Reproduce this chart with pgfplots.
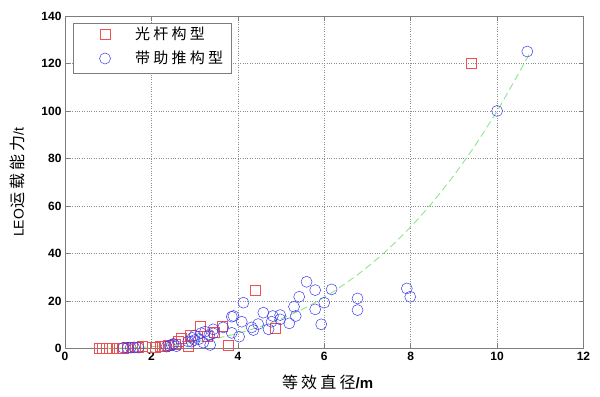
\documentclass[border=0pt]{standalone}
\usepackage{pgfplots}
\pgfplotsset{compat=1.18}
\usepackage{fontspec}
\setmainfont{Liberation Sans}
\newfontfamily\cjk[LetterSpace=20]{Noto Sans CJK SC}
\newfontfamily\cjkl[LetterSpace=22]{Noto Sans CJK SC}
\definecolor{axgray}{RGB}{125,125,125}
\definecolor{gridgray}{RGB}{140,140,140}
\definecolor{fitgreen}{RGB}{140,230,140}
\definecolor{mred}{RGB}{240,80,80}
\definecolor{mblue}{RGB}{60,60,235}
\begin{document}
\begin{tikzpicture}
\begin{axis}[
  at={(0,0)}, anchor=south west,
  scale only axis, width=518.4pt, height=332.6pt,
  xmin=0, xmax=12, ymin=0, ymax=140,
  xtick={0,2,...,12}, ytick={0,20,...,140},
  grid=major, major grid style={dotted, color=gridgray, line width=0.6pt},
  axis line style={axgray, line width=0.6pt},
  tick style={axgray, line width=0.6pt}, major tick length=5pt, tick align=inside,
  tick pos=both,
  ticklabel style={font=\fontsize{12}{14}\selectfont\bfseries},
  /pgf/number format/assume math mode=true,
  clip=false,
  xlabel={{\cjk\fontsize{16}{18}\selectfont 等效直径}{\fontsize{15}{18}\selectfont\bfseries /m}},
  ylabel={{\fontsize{14}{16}\selectfont LEO}{\cjk\fontsize{16}{18}\selectfont 运载能力}{\fontsize{14}{16}\selectfont /t}},
  xlabel style={at={(axis description cs:0.5064,-0.1007)}, anchor=center},
  ylabel style={at={(axis description cs:-0.0916,0.5)}, anchor=center},
  legend style={at={(axis description cs:0.01485,0.9796)}, anchor=north west,
    draw=axgray, line width=0.6pt, fill=white, inner xsep=0pt, inner ysep=1pt,
    nodes={inner xsep=8pt, inner ysep=4.5pt, text height=11pt, text depth=4pt},
    font=\cjkl\fontsize{15}{18}\selectfont, row sep=0pt},
  legend cell align=left,
  legend image code/.code={\path[draw=none] (-32pt,0pt) -- (22pt,0pt); \draw[#1] plot coordinates {(0pt,1.5pt)};},
]
\addplot[only marks, mark=square, mark size=5pt, mred, line width=0.5pt] coordinates {
(0.80,0.3) (0.87,0.3) (0.95,0.3) (1.02,0.3) (1.10,0.3) (1.20,0.3) (1.35,0.3)
(1.45,0.4) (1.55,0.5) (1.62,0.5) (1.70,0.6) (1.78,0.8) (2.02,0.5) (2.10,0.6)
(2.20,0.8) (2.30,1.0) (2.40,1.2) (2.55,2.0) (2.62,2.9) (2.70,4.3) (2.85,0.8)
(2.89,5.7) (3.13,9.2) (3.30,5.0) (3.45,7.0) (3.63,9.2) (3.78,1.5) (4.40,24.6)
(4.86,8.5) (9.40,120)
};
\addlegendentry{光杆构型}
\addplot[only marks, mark=o, mark size=5.5pt, mblue, line width=0.5pt] coordinates {
(1.35,0.3) (1.45,0.3) (1.52,0.4) (1.60,0.5) (1.70,0.4)
(2.35,0.8) (2.42,1.2) (2.47,1.5) (2.51,2.0) (2.58,1.0)
(2.85,3.0) (2.93,2.9) (3.00,3.6) (2.95,4.5) (3.00,5.5) (3.10,4.0) (3.15,6.5)
(3.20,2.5) (3.24,7.1) (3.34,5.7) (3.36,1.5) (3.43,8.1) (3.43,6.4) (3.66,8.9)
(3.86,13.4) (3.90,13.7) (3.86,6.6) (4.03,5.0) (4.09,11.3) (4.13,19.3) (4.32,8.9)
(4.36,7.8) (4.47,10.3) (4.59,15.1) (4.71,8.1) (4.78,11.3) (4.81,13.7) (4.98,14.1)
(4.98,12.3) (5.19,10.6) (5.30,17.6) (5.34,13.7) (5.42,21.8) (5.59,28.1) (5.79,24.6)
(5.79,16.5) (5.93,10.2) (6.00,19.3) (6.17,24.9) (6.77,21.1) (6.77,16.2) (7.91,25.3)
(7.99,21.8) (10.0,100) (10.7,125)
};
\addlegendentry{带助推构型}
\addplot[forget plot, fitgreen, line width=0.9pt, dash pattern=on 7pt off 4pt, smooth] coordinates {
(1.0,0.1) (1.5,0.3) (2.0,0.8) (2.5,1.6) (3.0,2.7) (3.5,4.3) (4.0,6.4) (4.5,9.1)
(5.0,12.5) (5.5,16.6) (6.0,21.6) (6.5,27.5) (7.0,34.3) (7.5,42.2) (8.0,51.2)
(8.5,61.4) (9.0,72.9) (9.5,85.7) (10.0,100.0) (10.5,115.8) (10.75,124.2)
};
\end{axis}
\pgfresetboundingbox
\path[use as bounding box] (-65pt,-47.5pt) rectangle (534.9pt,348.5pt);
\end{tikzpicture}
\end{document}
